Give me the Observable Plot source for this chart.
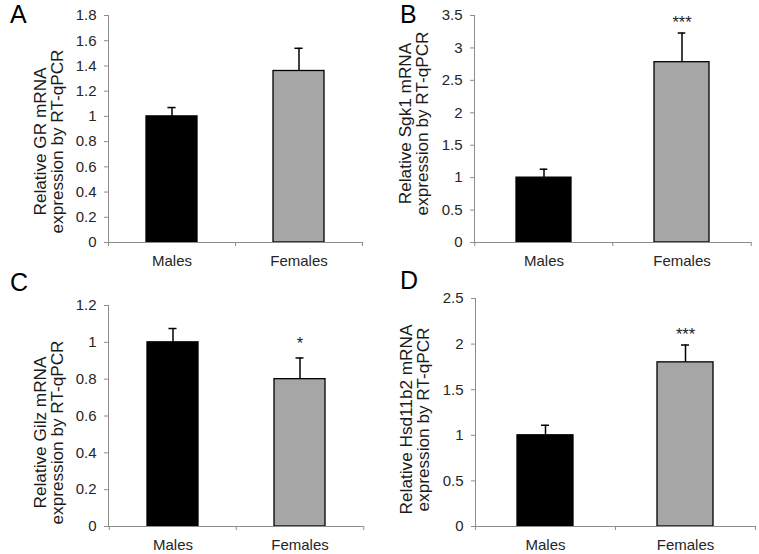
<!DOCTYPE html>
<html>
<head>
<meta charset="utf-8">
<script src="https://cdn.jsdelivr.net/npm/d3@7"></script>
<script src="https://cdn.jsdelivr.net/npm/@observablehq/plot@0.6"></script>
<style>
  html, body { margin: 0; padding: 0; background: #fff; }
  #fig { position: relative; width: 759px; height: 554px; background: #fff; font-family: "Liberation Sans", Arial, sans-serif; overflow: hidden; }
  .panel { position: absolute; }
  .letter { position: absolute; font-size: 25px; line-height: 25px; color: #000; }
</style>
</head>
<body>
<div id="fig"></div>
<script>
// ---- data ----
const groups = ["Males", "Females"];
const barColors = ["#000000", "#a6a6a6"];

const panelLetters = ["A", "B", "C", "D"];
const yTitles = [
  "Relative GR mRNA\nexpression by RT-qPCR",
  "Relative Sgk1 mRNA\nexpression by RT-qPCR",
  "Relative Gilz mRNA\nexpression by RT-qPCR",
  "Relative Hsd11b2 mRNA\nexpression by RT-qPCR"
];

const grMean = [1.0, 1.36];
const grErr = [0.07, 0.18];
const grSig = ["", ""];
const grTicks = [0, 0.2, 0.4, 0.6, 0.8, 1, 1.2, 1.4, 1.6, 1.8];

const sgk1Mean = [1.0, 2.78];
const sgk1Err = [0.13, 0.45];
const sgk1Sig = ["", "***"];
const sgk1Ticks = [0, 0.5, 1, 1.5, 2, 2.5, 3, 3.5];

const gilzMean = [1.0, 0.80];
const gilzErr = [0.075, 0.115];
const gilzSig = ["", "*"];
const gilzTicks = [0, 0.2, 0.4, 0.6, 0.8, 1, 1.2];

const hsdMean = [1.0, 1.80];
const hsdErr = [0.11, 0.19];
const hsdSig = ["", "***"];
const hsdTicks = [0, 0.5, 1, 1.5, 2, 2.5];

// ---- drawing ----
const axisGray = "#8c8c8c";
const textColor = "#262626";
const font = "Liberation Sans, Arial, sans-serif";

function panel(cfg) {
  const {title, mean, err, sig, ticks, width, height, ml, mr, mt, mb, labelDx, labelDy, starDy} = cfg;
  const data = groups.map((g, i) => ({group: g, mean: mean[i], upper: mean[i] + err[i], sig: sig[i]}));
  const ymax = ticks[ticks.length - 1];
  const W = width - ml - mr;
  const frameH = height - mt - mb;
  const step = W / 2;              // paddingInner 0.6, paddingOuter 0.3 => step = W / 2
  const bw = step * 0.4;
  const capW = 8;
  const capInset = (bw - capW) / 2;
  const tickLen = 4 * ymax / frameH;
  return Plot.plot({
    width, height,
    marginLeft: ml, marginRight: mr, marginTop: mt, marginBottom: mb,
    style: {fontFamily: font, background: "transparent", overflow: "visible"},
    x: {domain: groups, paddingInner: 0.6, paddingOuter: 0.3, axis: null},
    y: {domain: [0, ymax], axis: null},
    color: {domain: groups, range: barColors},
    marks: [
      Plot.barY(data, {x: "group", y: "mean", fill: "group", stroke: "#000", strokeWidth: 1.3}),
      Plot.ruleX(data, {x: "group", y1: "mean", y2: "upper", stroke: "#000", strokeWidth: 1.5}),
      Plot.tickY(data, {x: "group", y: "upper", stroke: "#000", strokeWidth: 1.5, insetLeft: capInset, insetRight: capInset}),
      Plot.text(data, {x: "group", y: "upper", text: "sig", dy: starDy, fontSize: 16.5, lineAnchor: "bottom", fill: "#222", fontFamily: font}),
      Plot.frame({anchor: "left", stroke: axisGray}),
      Plot.ruleY([0], {stroke: axisGray}),
      Plot.ruleX(groups, {x: d => d, y1: 0, y2: -tickLen, dx: -step / 2, stroke: axisGray}),
      Plot.ruleX(groups.slice(-1), {x: d => d, y1: 0, y2: -tickLen, dx: step / 2, stroke: axisGray}),
      Plot.axisY({ticks, tickFormat: d => String(d), tickSize: 4, tickPadding: 8, fontSize: 15, stroke: axisGray, fill: textColor, label: null}),
      Plot.axisX({tickSize: 0, tickPadding: 13, fontSize: 15, fill: textColor, label: null}),
      Plot.text([title], {text: d => d, frameAnchor: "left", rotate: -90, dx: labelDx, dy: labelDy, fontSize: 17.2, lineHeight: 1.0, lineAnchor: "middle", textAnchor: "middle", fill: "#1a1a1a", fontFamily: font})
    ]
  });
}

const layout = [
  {left: 0,   top: 0,   title: yTitles[0], mean: grMean,   err: grErr,   sig: grSig,   ticks: grTicks,   width: 380, height: 270, ml: 108, mr: 18, mt: 15, mb: 28, labelDx: -59.5, labelDy: 12.5, starDy: -6},
  {left: 380, top: 0,   title: yTitles[1], mean: sgk1Mean, err: sgk1Err, sig: sgk1Sig, ticks: sgk1Ticks, width: 379, height: 270, ml: 94,  mr: 8,  mt: 15, mb: 28, labelDx: -60.7, labelDy: -5.5, starDy: -5},
  {left: 0,   top: 270, title: yTitles[2], mean: gilzMean, err: gilzErr, sig: gilzSig, ticks: gilzTicks, width: 380, height: 284, ml: 108, mr: 17, mt: 35, mb: 28, labelDx: -59.5, labelDy: 16.5, starDy: -9},
  {left: 380, top: 270, title: yTitles[3], mean: hsdMean,  err: hsdErr,  sig: hsdSig,  ticks: hsdTicks,  width: 379, height: 284, ml: 95,  mr: 4,  mt: 28, mb: 28, labelDx: -60.8, labelDy: 7, starDy: -5.5}
];

const letterPos = [[10, 1.8], [400, 1.8], [10, 269.8], [400, 268]];

const fig = document.getElementById("fig");
layout.forEach((cfg, i) => {
  const div = document.createElement("div");
  div.className = "panel";
  div.style.left = cfg.left + "px";
  div.style.top = cfg.top + "px";
  div.appendChild(panel(cfg));
  fig.appendChild(div);
});
panelLetters.forEach((L, i) => {
  const d = document.createElement("div");
  d.className = "letter";
  d.style.left = letterPos[i][0] + "px";
  d.style.top = letterPos[i][1] + "px";
  d.textContent = L;
  fig.appendChild(d);
});
</script>
</body>
</html>
